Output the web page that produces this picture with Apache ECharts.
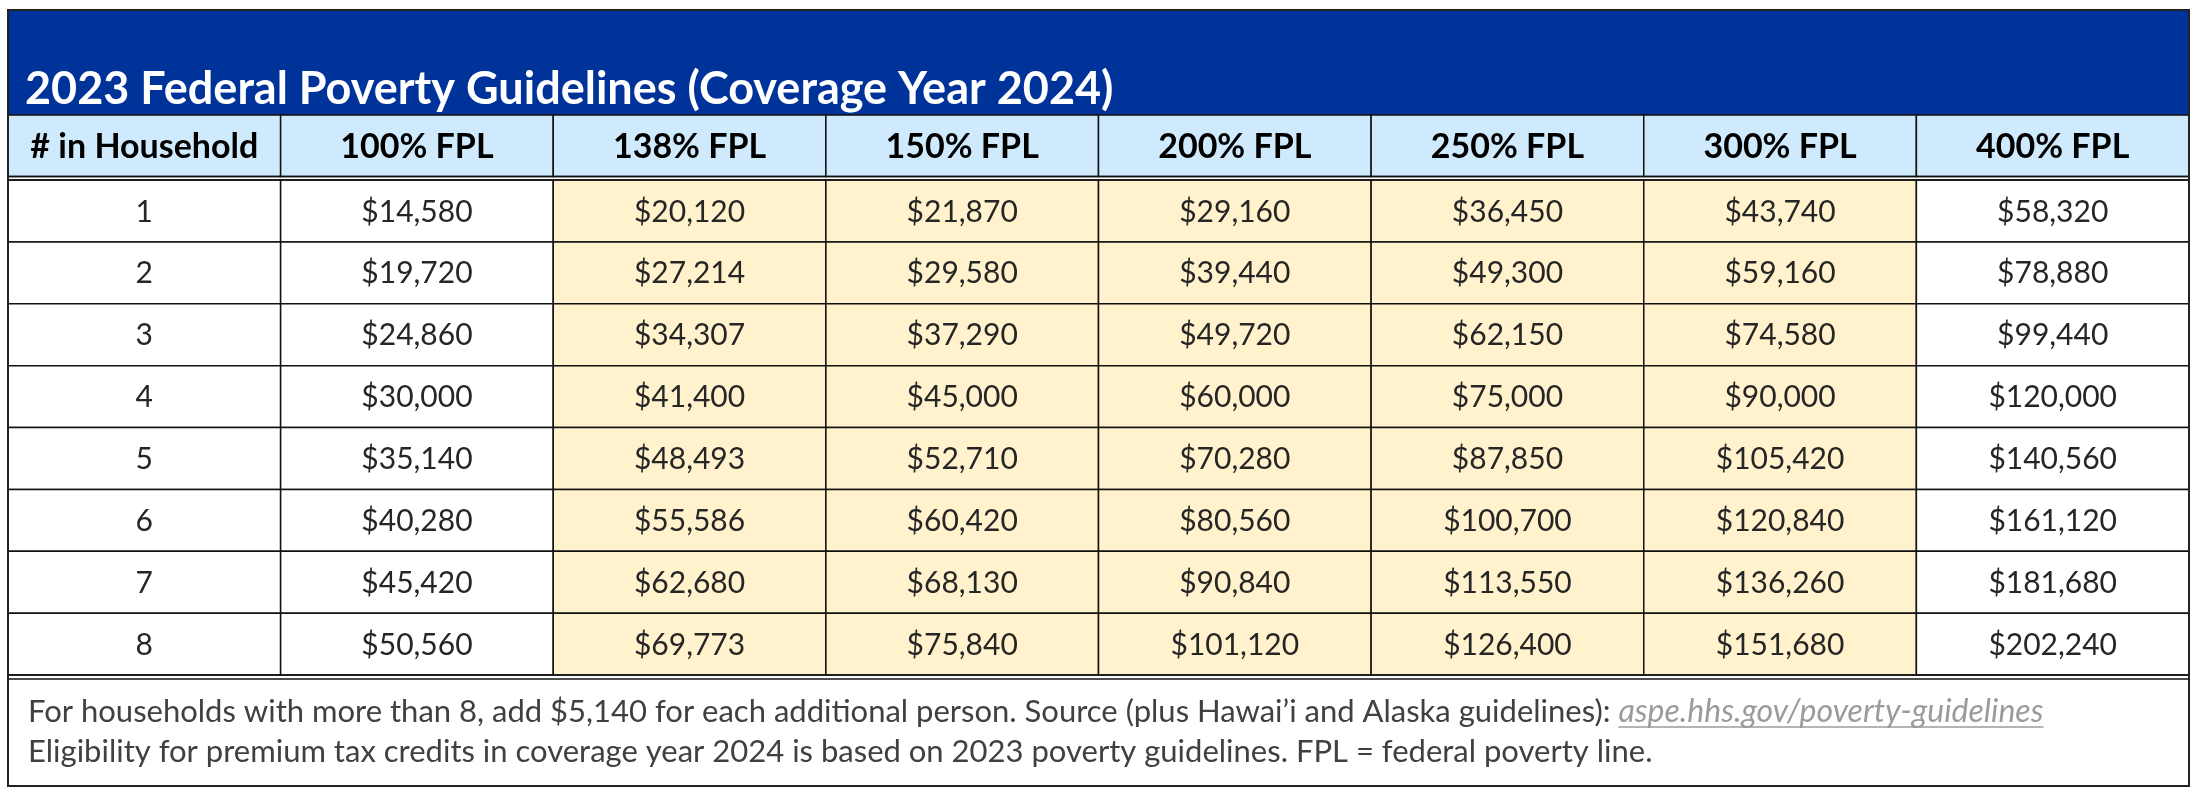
<!DOCTYPE html>
<html><head><meta charset="utf-8">
<script src="https://cdn.jsdelivr.net/npm/echarts@6/dist/echarts.min.js"></script>
<style>html,body{margin:0;padding:0;background:#fff}#chart{width:2200px;height:796px}</style>
</head><body><div id="chart"></div>
<script>
// ---------- data ----------
const titleText = '2023 Federal Poverty Guidelines (Coverage Year 2024)';
const columnHeaders = ['# in Household', '100% FPL', '138% FPL', '150% FPL', '200% FPL', '250% FPL', '300% FPL', '400% FPL'];
const householdSizes = ['1', '2', '3', '4', '5', '6', '7', '8'];
const fpl100 = [14580, 19720, 24860, 30000, 35140, 40280, 45420, 50560];
const fpl138 = [20120, 27214, 34307, 41400, 48493, 55586, 62680, 69773];
const fpl150 = [21870, 29580, 37290, 45000, 52710, 60420, 68130, 75840];
const fpl200 = [29160, 39440, 49720, 60000, 70280, 80560, 90840, 101120];
const fpl250 = [36450, 49300, 62150, 75000, 87850, 100700, 113550, 126400];
const fpl300 = [43740, 59160, 74580, 90000, 105420, 120840, 136260, 151680];
const fpl400 = [58320, 78880, 99440, 120000, 140560, 161120, 181680, 202240];
const highlightedColumns = ['138% FPL', '150% FPL', '200% FPL', '250% FPL', '300% FPL'];
const footnoteLine1 = 'For households with more than 8, add $5,140 for each additional person. Source (plus Hawai\u2019i and Alaska guidelines): ';
const footnoteLink = 'aspe.hhs.gov/poverty-guidelines';
const footnoteLine2 = 'Eligibility for premium tax credits in coverage year 2024 is based on 2023 poverty guidelines. FPL = federal poverty line.';

// ---------- layout / style ----------
const FONT = 'Lato, "Open Sans", sans-serif';
const L = 8, R = 2189, TOP = 10, TITLE_B = 115, HEAD_B = 176.5, DATA_T = 180, GRID_B = 675, BOTTOM = 786;
const BLUE = '#003399', HEAD_BG = '#cfeafc', GOLD = '#fff2cc';

const valueColumns = [fpl100, fpl138, fpl150, fpl200, fpl250, fpl300, fpl400];
const fmt = v => '$' + v.toLocaleString('en-US');

const headerCells = columnHeaders.map((ch, c) => ({
  value: [c, 0], text: ch, fill: HEAD_BG, weight: 'bold', color: '#000', size: 34
}));
const dataCells = [];
householdSizes.forEach((hs, r) => {
  columnHeaders.forEach((ch, c) => {
    dataCells.push({
      value: [c, r],
      text: c === 0 ? hs : fmt(valueColumns[c - 1][r]),
      fill: highlightedColumns.indexOf(ch) >= 0 ? GOLD : '#ffffff',
      weight: 'normal', color: '#262626', size: 30
    });
  });
});

function makeRender(cells) {
  return function (params, api) {
    const d = cells[params.dataIndex];
    const c = api.coord([api.value(0), api.value(1)]);
    const s = api.size([1, 1]);
    return {
      type: 'group',
      children: [
        { type: 'rect', shape: { x: c[0] - s[0] / 2, y: c[1] - s[1] / 2, width: s[0], height: s[1] },
          style: { fill: d.fill, stroke: '#111', lineWidth: 1.5 } },
        { type: 'text', style: { x: c[0], y: c[1] + 1, text: d.text, align: 'center', verticalAlign: 'middle',
          font: d.weight + ' ' + d.size + 'px ' + FONT, fill: d.color } }
      ]
    };
  };
}

// measure footnote text for link placement
const FOOT_SIZE = 31, LINK_SIZE = 32;
const mctx = document.createElement('canvas').getContext('2d');
mctx.font = 'normal ' + FOOT_SIZE + 'px ' + FONT;
const prefixW = mctx.measureText(footnoteLine1).width;
mctx.font = 'italic ' + LINK_SIZE + 'px ' + FONT;
const linkW = mctx.measureText(footnoteLink).width;
const FOOT_X = 28, FOOT_Y1 = 712, FOOT_Y2 = 752;

const chart = echarts.init(document.getElementById('chart'), null, { renderer: 'canvas' });
chart.setOption({
  backgroundColor: '#ffffff',
  animation: false,
  title: {
    text: titleText, left: 25, top: 67, padding: 0, z: 10,
    textStyle: { color: '#ffffff', fontSize: 45, fontWeight: 'bold', fontFamily: FONT, lineHeight: 45 }
  },
  grid: [
    { left: L, right: 2200 - R, top: TITLE_B, height: HEAD_B - TITLE_B },
    { left: L, right: 2200 - R, top: DATA_T, bottom: 796 - GRID_B }
  ],
  xAxis: [
    { type: 'category', gridIndex: 0, data: columnHeaders, show: false },
    { type: 'category', gridIndex: 1, data: columnHeaders, show: false }
  ],
  yAxis: [
    { type: 'category', gridIndex: 0, data: ['header'], show: false },
    { type: 'category', gridIndex: 1, data: householdSizes, inverse: true, show: false }
  ],
  series: [
    { type: 'custom', xAxisIndex: 0, yAxisIndex: 0, renderItem: makeRender(headerCells),
      data: headerCells.map(d => d.value), z: 2, encode: { x: 0, y: 1 } },
    { type: 'custom', xAxisIndex: 1, yAxisIndex: 1, renderItem: makeRender(dataCells),
      data: dataCells.map(d => d.value), z: 2, encode: { x: 0, y: 1 } }
  ],
  graphic: [
    { type: 'rect', z: 1, shape: { x: L, y: TOP, width: R - L, height: TITLE_B - TOP }, style: { fill: BLUE } },
    // double line below header
    { type: 'line', z: 51, shape: { x1: L, y1: HEAD_B, x2: R, y2: HEAD_B }, style: { stroke: '#111', lineWidth: 1.5 } },
    { type: 'line', z: 51, shape: { x1: L, y1: DATA_T, x2: R, y2: DATA_T }, style: { stroke: '#111', lineWidth: 1.5 } },
    // double line above footnote
    { type: 'line', z: 51, shape: { x1: L, y1: GRID_B, x2: R, y2: GRID_B }, style: { stroke: '#111', lineWidth: 1.5 } },
    { type: 'line', z: 51, shape: { x1: L, y1: GRID_B + 4, x2: R, y2: GRID_B + 4 }, style: { stroke: '#111', lineWidth: 1.5 } },
    // footnote
    { type: 'text', z: 20, style: { x: FOOT_X, y: FOOT_Y1, text: footnoteLine1, verticalAlign: 'middle',
        font: 'normal ' + FOOT_SIZE + 'px ' + FONT, fill: '#404040' } },
    { type: 'text', z: 20, style: { x: FOOT_X + prefixW, y: FOOT_Y1, text: footnoteLink, verticalAlign: 'middle',
        font: 'italic ' + LINK_SIZE + 'px ' + FONT, fill: '#9b9b9b' } },
    { type: 'line', z: 20, shape: { x1: FOOT_X + prefixW, y1: FOOT_Y1 + 15, x2: FOOT_X + prefixW + linkW, y2: FOOT_Y1 + 15 },
      style: { stroke: '#9b9b9b', lineWidth: 1.5 } },
    { type: 'text', z: 20, style: { x: FOOT_X, y: FOOT_Y2, text: footnoteLine2, verticalAlign: 'middle',
        font: 'normal ' + FOOT_SIZE + 'px ' + FONT, fill: '#404040' } },
    // outer border
    { type: 'rect', z: 60, shape: { x: L, y: TOP, width: R - L, height: BOTTOM - TOP },
      style: { fill: 'none', stroke: '#222', lineWidth: 2 } }
  ]
});
</script></body></html>
